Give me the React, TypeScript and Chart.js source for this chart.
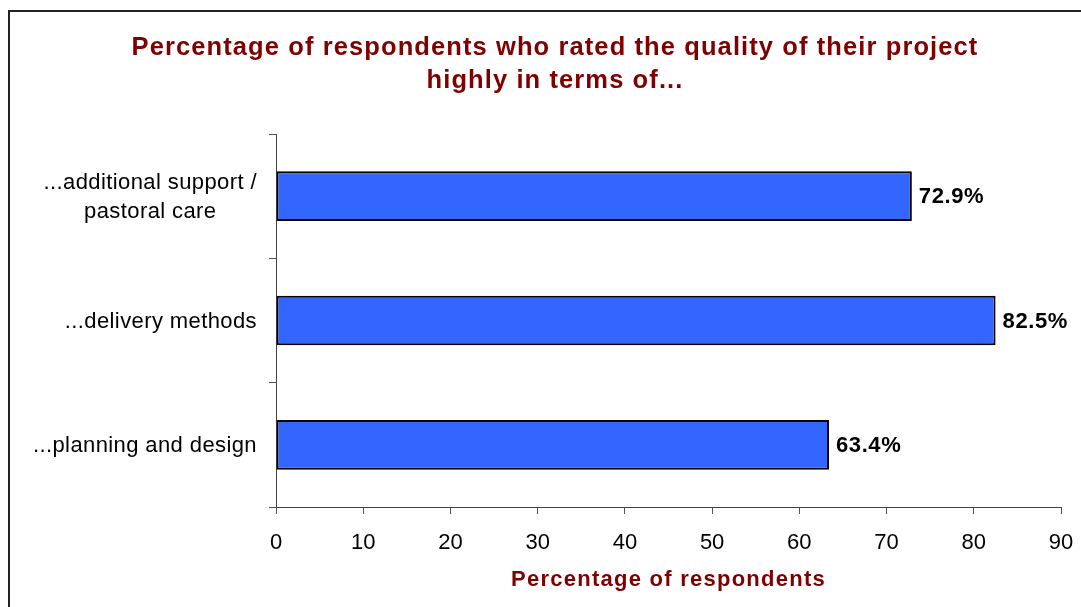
import React, { useEffect, useRef } from "react";
import { Chart, registerables } from "chart.js";

Chart.register(...registerables);

const titleLines = [
  "Percentage of respondents who rated the quality of their project",
  "highly in terms of...",
];
const categories: string[][] = [
  ["...additional support /", "pastoral care"],
  ["...delivery methods"],
  ["...planning and design"],
];
const values = [72.9, 82.5, 63.4];
const xMin = 0;
const xMax = 90;
const xStep = 10;
const xAxisTitle = "Percentage of respondents";
const valueSuffix = "%";

const FONT = "'Liberation Sans', Arial, sans-serif";
const MAROON = "#800000";

const textPlugin = {
  id: "customText",
  afterDraw(chart: any) {
    const ctx = chart.ctx as CanvasRenderingContext2D;
    const area = chart.chartArea;
    const xs = chart.scales.x;
    const ys = chart.scales.y;
    ctx.save();
    // Title
    ctx.fillStyle = MAROON;
    ctx.font = `bold 25.5px ${FONT}`;
    (ctx as any).letterSpacing = "1.1px";
    ctx.textAlign = "center";
    ctx.textBaseline = "alphabetic";
    const titleX = 555;
    titleLines.forEach((line, i) => ctx.fillText(line, titleX, 55 + i * 33));

    // Axis title
    ctx.font = `bold 22px ${FONT}`;
    (ctx as any).letterSpacing = "1.25px";
    ctx.fillText(xAxisTitle, (area.left + area.right) / 2, 586);

    // Category labels
    ctx.fillStyle = "#000";
    ctx.font = `22px ${FONT}`;
    (ctx as any).letterSpacing = "0.4px";
    ctx.textBaseline = "middle";
    const rightEdge = area.left - 19;
    const lineH = 29;
    categories.forEach((lines, i) => {
      const cy = ys.getPixelForValue(i);
      const widths = lines.map((l) => ctx.measureText(l).width);
      const maxW = Math.max(...widths);
      const cx = rightEdge - maxW / 2;
      const startY = cy + 1 - ((lines.length - 1) * lineH) / 2;
      lines.forEach((l, j) => {
        ctx.textAlign = "center";
        ctx.fillText(l, cx, startY + j * lineH);
      });
    });

    // Value labels
    ctx.font = `bold 22px ${FONT}`;
    (ctx as any).letterSpacing = "0.6px";
    ctx.textAlign = "left";
    values.forEach((v, i) => {
      const px = xs.getPixelForValue(v);
      const py = ys.getPixelForValue(i);
      ctx.fillText(v.toFixed(1) + valueSuffix, px + 7, py + 1);
    });
    ctx.restore();
  },
};

export default function App() {
  const ref = useRef<HTMLCanvasElement | null>(null);
  useEffect(() => {
    if (!ref.current) return;
    const chart = new Chart(ref.current, {
      type: "bar",
      data: {
        labels: categories.map((c) => c.join(" ")),
        datasets: [
          {
            data: values,
            backgroundColor: "#3366FF",
            borderColor: "#000000",
            borderWidth: 2,
            borderSkipped: false,
            categoryPercentage: 1,
            barPercentage: 0.4,
          },
        ],
      },
      options: {
        indexAxis: "y",
        animation: false,
        responsive: false,
        devicePixelRatio: 1,
        layout: { padding: { top: 134, right: 20, left: 0, bottom: 0 } },
        plugins: {
          legend: { display: false },
          title: { display: false },
          tooltip: { enabled: false },
        },
        scales: {
          x: {
            type: "linear",
            min: xMin,
            max: xMax,
            ticks: {
              stepSize: xStep,
              color: "#000",
              font: { family: FONT, size: 22 },
              padding: 16,
              maxRotation: 0,
            },
            grid: {
              drawOnChartArea: false,
              drawTicks: true,
              tickLength: 7,
              color: "#555",
            },
            border: { display: true, color: "#444", width: 1 },
            afterFit: (s: any) => {
              s.height = 100;
              s.paddingLeft = 0;
              s.paddingRight = 0;
            },
          },
          y: {
            type: "category",
            ticks: { display: false },
            grid: {
              offset: true,
              drawOnChartArea: false,
              drawTicks: true,
              tickLength: 7,
              color: "#555",
            },
            border: { display: true, color: "#444", width: 1 },
            afterFit: (s: any) => {
              s.width = 276;
              s.paddingTop = 0;
              s.paddingBottom = 0;
            },
          },
        },
      },
      plugins: [textPlugin],
    });
    return () => chart.destroy();
  }, []);

  return (
    <div
      style={{
        position: "fixed",
        left: 0,
        top: 0,
        width: "100vw",
        height: "100vh",
        overflow: "hidden",
        background: "#fff",
      }}
    >
      <div
        style={{
          position: "absolute",
          left: 8,
          top: 10,
          width: 1300,
          height: 900,
          border: "2px solid #222",
          boxSizing: "border-box",
        }}
      />
      <canvas
        ref={ref}
        width={1081}
        height={607}
        style={{ position: "absolute", left: 0, top: 0, display: "block" }}
      />
    </div>
  );
}
